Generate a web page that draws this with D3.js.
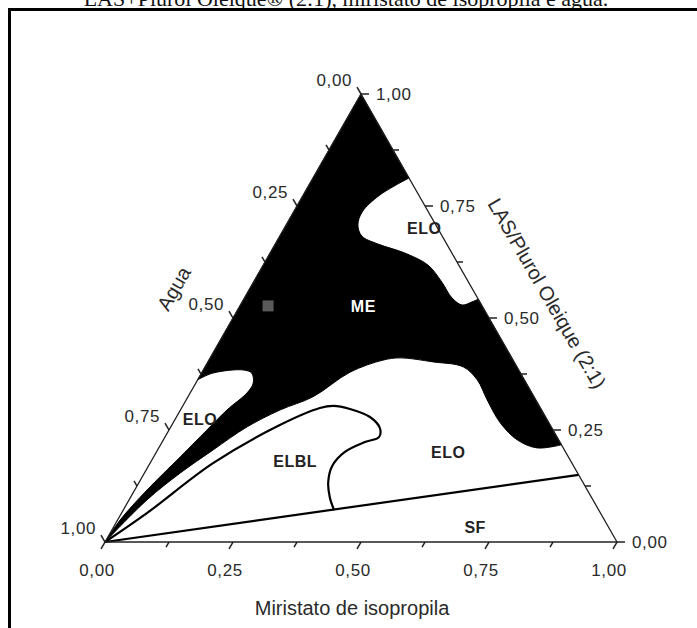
<!DOCTYPE html>
<html>
<head>
    <meta charset="utf-8">
    <title>Diagrama ternario</title>
    <script src="https://d3js.org/d3.v7.min.js" charset="utf-8"></script>
    <style>
        body { margin: 0; background: #fff; }
        svg { display: block; }
    </style>
</head>
<body>
    <script type="text/javascript">

        // compositions are [miristato, LAS/Plurol] ; agua = 1 - both
        const meRightEdgeTop = [[0, 1], [0.1875, 0.8125]];
        const eloTopBoundary = [[0.1875, 0.8125], [0.150, 0.775], [0.134, 0.737], [0.140, 0.708], [0.160, 0.683],
            [0.201, 0.665], [0.263, 0.645], [0.322, 0.618], [0.368, 0.580], [0.405, 0.545],
            [0.433, 0.529], [0.449, 0.536], [0.458, 0.542]];
        const meRightEdgeLow = [[0.458, 0.542], [0.783, 0.217]];
        const meLowerBoundary = [[0.783, 0.217], [0.739, 0.210], [0.691, 0.228], [0.639, 0.266], [0.588, 0.317],
            [0.546, 0.362], [0.504, 0.391], [0.440, 0.402], [0.371, 0.411], [0.340, 0.406],
            [0.289, 0.379], [0.244, 0.324], [0.195, 0.295], [0.149, 0.257], [0.108, 0.205],
            [0.070, 0.154], [0.035, 0.094], [0, 0]];
        const eloLeftBoundary = [[0, 0], [0.005, 0.049], [0.024, 0.116], [0.052, 0.190], [0.074, 0.250],
            [0.091, 0.295], [0.111, 0.333], [0.112, 0.355], [0.098, 0.377], [0.078, 0.384],
            [0.022, 0.377], [0, 0.362]];
        const meLeftEdge = [[0, 0.362], [0, 1]];

        const elblCurve = [[0, 0], [0.050, 0.065], [0.123, 0.176], [0.211, 0.261], [0.270, 0.299],
            [0.294, 0.304], [0.330, 0.297], [0.378, 0.279], [0.410, 0.254], [0.418, 0.234],
            [0.396, 0.223], [0.368, 0.201], [0.359, 0.170], [0.369, 0.134], [0.389, 0.100],
            [0.412, 0.071]];
        const sfLine = [[0, 0], [0.85, 0.15]];

        const samplePoint = [0.055, 0.527];

        const tickValues = d3.range(0, 1.0001, 0.125);
        const tickLabels = ["0,00", "0,25", "0,50", "0,75", "1,00"];

        const regionLabels = [
            { text: "ME", c: [0.241, 0.527], color: "#fff" },
            { text: "ELO", c: [0.273, 0.701], color: "#222" },
            { text: "ELO", c: [0.048, 0.275], color: "#222" },
            { text: "ELBL", c: [0.281, 0.181], color: "#222" },
            { text: "ELO", c: [0.570, 0.201], color: "#222" },
            { text: "SF", c: [0.706, 0.034], color: "#222" }
        ];

        const w = 697;
        const h = 628;

        const xScale = d3.scaleLinear().domain([0, 1]).range([105, 617]);
        const yScale = d3.scaleLinear().domain([0, 1]).range([542, 94]);

        const proj = (d) => [xScale(d[0] + d[1] / 2), yScale(d[1])];

        const svg = d3.select("body")
            .append("svg")
            .attr("width", w)
            .attr("height", h);

        // title, cut at the top like in the scan
        svg.append("text")
            .attr("x", 346)
            .attr("y", 6)
            .attr("text-anchor", "middle")
            .style("font-family", "'Liberation Serif', 'Times New Roman', serif")
            .style("font-size", "22px")
            .style("fill", "#111")
            .text("LAS+Plurol Oleique® (2:1), miristato de isopropila e água.");

        // frame
        svg.append("line").attr("x1", 8).attr("x2", w).attr("y1", 9.5).attr("y2", 9.5)
            .attr("stroke", "#000").attr("stroke-width", 3);
        svg.append("line").attr("x1", 9.5).attr("x2", 9.5).attr("y1", 8).attr("y2", h)
            .attr("stroke", "#000").attr("stroke-width", 3);

        const straight = d3.line().x(d => proj(d)[0]).y(d => proj(d)[1]);
        const smooth = d3.line().x(d => proj(d)[0]).y(d => proj(d)[1]).curve(d3.curveCatmullRom.alpha(0.5));
        const join = (p) => p.replace(/^M/, "L");

        // black ME region
        const mePath = straight(meRightEdgeTop)
            + join(smooth(eloTopBoundary))
            + join(straight(meRightEdgeLow))
            + join(smooth(meLowerBoundary))
            + join(smooth(eloLeftBoundary))
            + join(straight(meLeftEdge)) + "Z";

        svg.append("path")
            .attr("d", mePath)
            .attr("fill", "#000")
            .attr("stroke", "#000")
            .attr("stroke-width", 1);

        svg.append("path")
            .attr("d", smooth(elblCurve))
            .attr("fill", "none")
            .attr("stroke", "#000")
            .attr("stroke-width", 2.2);

        svg.append("path")
            .attr("d", straight(sfLine))
            .attr("fill", "none")
            .attr("stroke", "#000")
            .attr("stroke-width", 2.2);

        // gray sample marker
        const sp = proj(samplePoint);
        svg.append("rect")
            .attr("x", sp[0] - 5.5)
            .attr("y", sp[1] - 5.5)
            .attr("width", 11)
            .attr("height", 11)
            .attr("fill", "#5a5a5a");

        // triangle axes
        const corners = [[0, 0], [1, 0], [0, 1]];
        svg.append("path")
            .attr("d", straight(corners) + "Z")
            .attr("fill", "none")
            .attr("stroke", "#222")
            .attr("stroke-width", 1.3);

        const axisFont = "'Liberation Sans', Arial, sans-serif";

        // axis definitions: position along axis -> composition, tick direction
        const axes = [
            { name: "bottom", pos: (t) => [t, 0], dir: [-0.5, 0.866] },
            { name: "right", pos: (t) => [1 - t, t], dir: [1, 0] },
            { name: "left", pos: (t) => [0, 1 - t], dir: [-0.5, -0.866] }
        ];

        axes.forEach(function (ax) {
            const g = svg.append("g").attr("class", "axis-" + ax.name);
            tickValues.forEach(function (t, i) {
                const p = proj(ax.pos(t));
                const len = (i % 2 === 0) ? 8 : 6;
                const e = [p[0] + ax.dir[0] * len, p[1] + ax.dir[1] * len];
                g.append("line")
                    .attr("x1", p[0]).attr("y1", p[1])
                    .attr("x2", e[0]).attr("y2", e[1])
                    .attr("stroke", "#222")
                    .attr("stroke-width", 1.5);
                if (i % 2 !== 0) return;
                const lab = g.append("text")
                    .style("font-family", axisFont)
                    .style("font-size", "17px")
                    .style("letter-spacing", "0.6px")
                    .style("fill", "#2a2a2a")
                    .text(tickLabels[i / 2]);
                if (ax.name === "bottom") {
                    lab.attr("x", e[0] - 4).attr("y", 576).attr("text-anchor", "middle");
                } else if (ax.name === "right") {
                    lab.attr("x", e[0] + 7).attr("y", e[1] + 6).attr("text-anchor", "start");
                } else {
                    lab.attr("x", e[0] - 5).attr("y", e[1] - 1).attr("text-anchor", "end");
                }
            });
        });

        // axis titles
        svg.append("text")
            .attr("x", 352)
            .attr("y", 615)
            .attr("text-anchor", "middle")
            .style("font-family", axisFont)
            .style("font-size", "20px")
            .style("fill", "#2a2a2a")
            .text("Miristato de isopropila");

        svg.append("text")
            .attr("transform", "translate(180,292) rotate(-60)")
            .attr("text-anchor", "middle")
            .style("font-family", axisFont)
            .style("font-size", "20px")
            .style("fill", "#2a2a2a")
            .text("Agua");

        svg.append("text")
            .attr("transform", "translate(541,297) rotate(60)")
            .attr("text-anchor", "middle")
            .style("font-family", axisFont)
            .style("font-size", "20px")
            .style("fill", "#2a2a2a")
            .text("LAS/Plurol Oleique (2:1)");

        // region names
        svg.selectAll(".region")
            .data(regionLabels)
            .enter()
            .append("text")
            .attr("class", "region")
            .attr("x", d => proj(d.c)[0])
            .attr("y", d => proj(d.c)[1] + 6)
            .attr("text-anchor", "middle")
            .style("font-family", axisFont)
            .style("font-weight", "bold")
            .style("font-size", "16px")
            .style("letter-spacing", "0.5px")
            .style("fill", d => d.color)
            .text(d => d.text);
    </script>
</body>
</html>
